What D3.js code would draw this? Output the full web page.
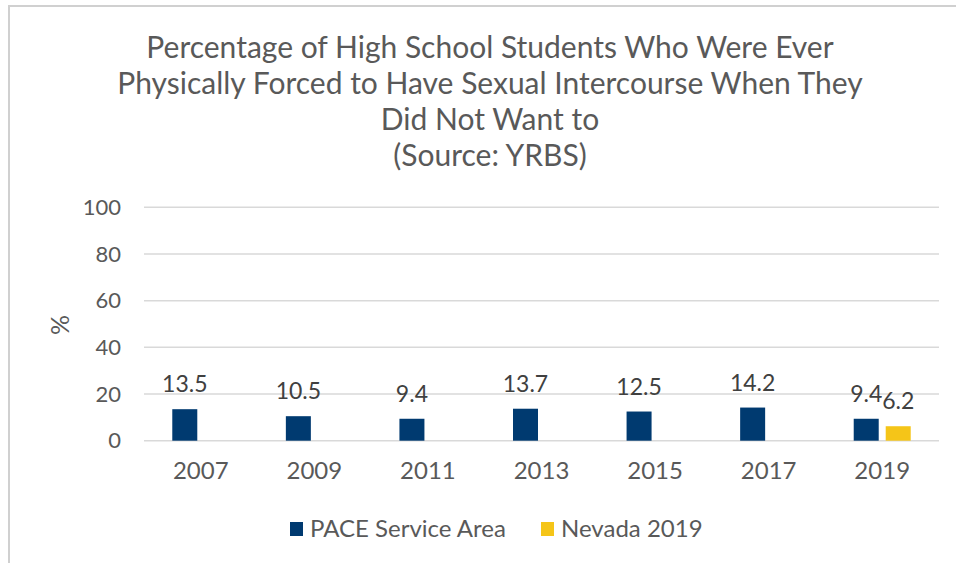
<!DOCTYPE html>
<html>
<head>
<meta charset="utf-8">
<script src="https://cdn.jsdelivr.net/npm/d3@7"></script>
<style>
  html, body { margin: 0; padding: 0; background: #fff; }
  svg { display: block; }
  text { font-family: Lato, "Open Sans", sans-serif; }
</style>
</head>
<body>
<svg id="chart" width="956" height="563"></svg>
<script>
// Survey years and series values (%)
const years = ["2007", "2009", "2011", "2013", "2015", "2017", "2019"];
const paceValues = [13.5, 10.5, 9.4, 13.7, 12.5, 14.2, 9.4];
const nevadaValues = [null, null, null, null, null, null, 6.2];
const seriesNames = ["PACE Service Area", "Nevada 2019"];
const seriesColors = ["#003a70", "#f5c518"];
const yTicks = [0, 20, 40, 60, 80, 100];
const titleLines = [
  "Percentage of High School Students Who Were Ever",
  "Physically Forced to Have Sexual Intercourse When They",
  "Did Not Want to",
  "(Source: YRBS)"
];

const svg = d3.select("#chart");
const W = 956, H = 563;

// Outer frame (top and left edges visible)
svg.append("line").attr("x1", 9).attr("x2", W).attr("y1", 6).attr("y2", 6)
  .attr("stroke", "#d0d0d0").attr("stroke-width", 2);
svg.append("line").attr("x1", 9).attr("x2", 9).attr("y1", 5).attr("y2", H)
  .attr("stroke", "#d0d0d0").attr("stroke-width", 2);

// Title
const title = svg.append("text")
  .attr("text-anchor", "middle")
  .attr("fill", "#595959")
  .style("font-size", "30px");
titleLines.forEach((t, i) => {
  title.append("tspan").attr("x", 490).attr("y", 58 + i * 36).text(t);
});

const plot = { left: 144, right: 939, top: 207.3, bottom: 440.7 };

const x = d3.scaleBand().domain(years).range([plot.left, plot.right]).paddingInner(0).paddingOuter(0);
const y = d3.scaleLinear().domain([0, 100]).range([plot.bottom, plot.top]);

const barW = 25, gap = 7;
const groupW = barW * 2 + gap;
const xs = d3.scaleOrdinal().domain([0, 1]).range([0, barW + gap]);

// Gridlines
svg.append("g")
  .selectAll("line")
  .data(yTicks)
  .join("line")
  .attr("x1", plot.left).attr("x2", plot.right)
  .attr("y1", d => y(d)).attr("y2", d => y(d))
  .attr("stroke", "#d9d9d9").attr("stroke-width", 1.5);

// Y axis labels
const yAxis = d3.axisLeft(y).tickValues(yTicks).tickSize(0).tickPadding(0);
const gy = svg.append("g").attr("transform", `translate(121,0)`).call(yAxis);
gy.select(".domain").remove();
gy.selectAll("text").attr("fill", "#595959").style("font-size", "22px")
  .style("font-family", "Lato, 'Open Sans', sans-serif");

// X axis labels
const xAxis = d3.axisBottom(x).tickSize(0).tickPadding(0);
const gx = svg.append("g").attr("transform", `translate(0,462)`).call(xAxis);
gx.select(".domain").remove();
gx.selectAll("text").attr("fill", "#595959").style("font-size", "24px")
  .style("font-family", "Lato, 'Open Sans', sans-serif");

// Axis title
svg.append("text")
  .attr("transform", "translate(69,325) rotate(-90)")
  .attr("text-anchor", "middle")
  .attr("fill", "#595959")
  .style("font-size", "25px")
  .text("%");

// Bars
const series = [paceValues, nevadaValues];
series.forEach((vals, si) => {
  const data = years.map((yr, i) => ({ yr, v: vals[i] })).filter(d => d.v != null);
  const g = svg.append("g");
  const bx = d => x(d.yr) + x.bandwidth() / 2 - groupW / 2 + xs(si);
  g.selectAll("rect").data(data).join("rect")
    .attr("x", bx)
    .attr("y", d => y(d.v))
    .attr("width", barW)
    .attr("height", d => y(0) - y(d.v))
    .attr("fill", seriesColors[si]);
  g.selectAll("text").data(data).join("text")
    .attr("x", d => bx(d) + barW / 2)
    .attr("y", d => y(d.v) - 17)
    .attr("text-anchor", "middle")
    .attr("fill", "#404040")
    .style("font-size", "23px")
    .text(d => d.v.toFixed(1));
});

// Legend
const legend = svg.append("g").attr("transform", "translate(290,529)");
const items = [{ n: seriesNames[0], c: seriesColors[0], x: 0 }, { n: seriesNames[1], c: seriesColors[1], x: 251 }];
items.forEach(it => {
  legend.append("rect").attr("x", it.x).attr("y", -7).attr("width", 13).attr("height", 14).attr("fill", it.c);
  legend.append("text").attr("x", it.x + 20).attr("y", 0).attr("dy", "0.35em")
    .attr("fill", "#595959").style("font-size", "24px").text(it.n);
});
</script>
</body>
</html>
